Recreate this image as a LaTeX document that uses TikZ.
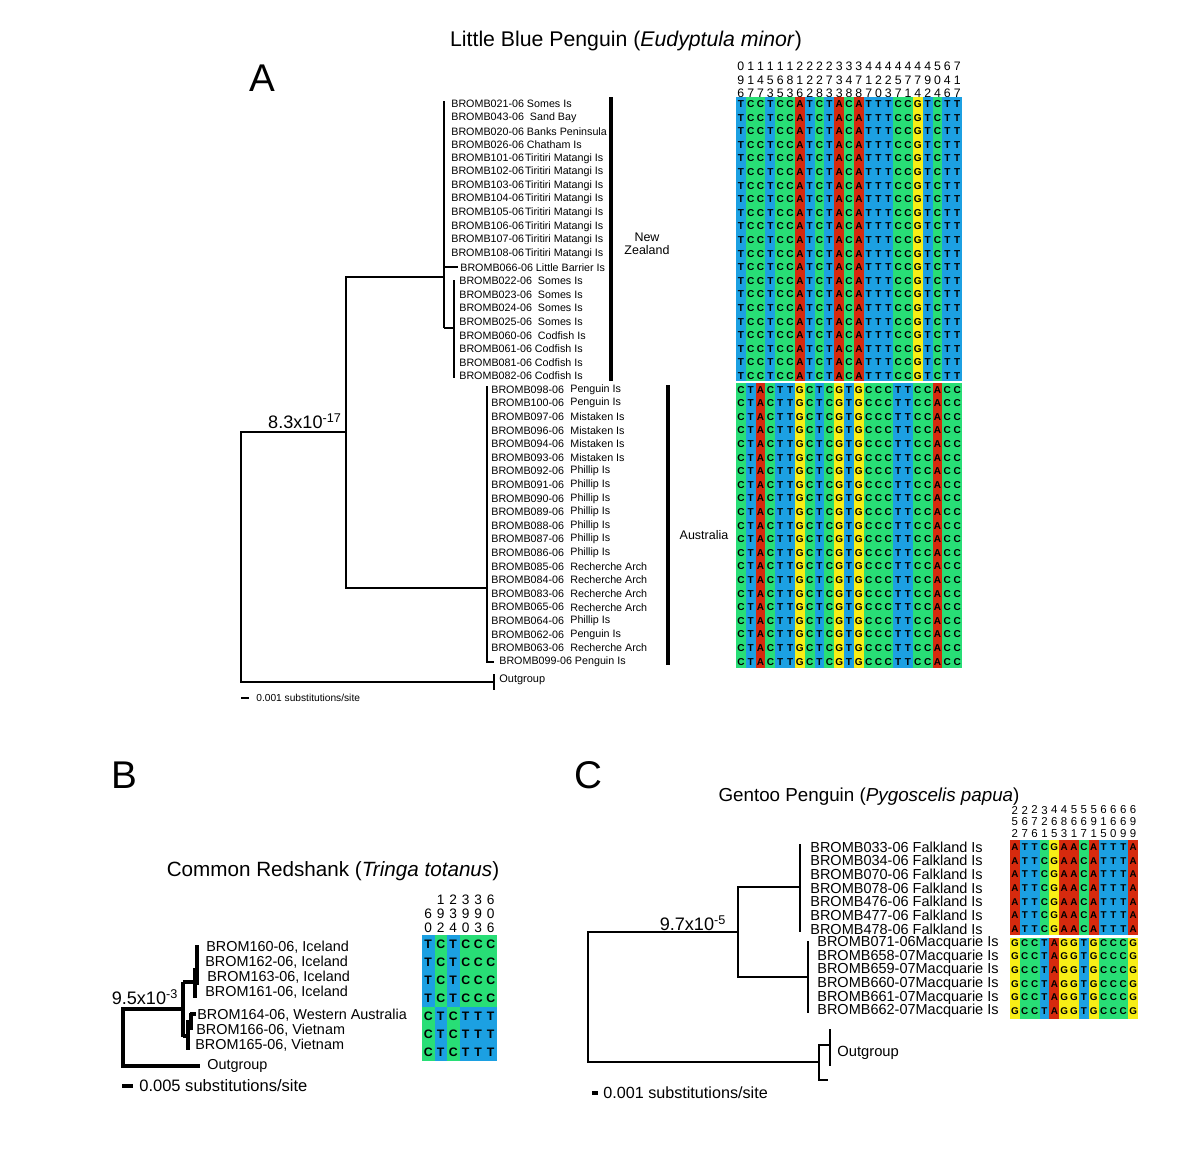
\documentclass[tikz,border=0pt]{standalone}
\usepackage{fontspec}
\setmainfont{Liberation Sans}
\usetikzlibrary{positioning}
\definecolor{NucA}{RGB}{214,42,14}
\definecolor{NucC}{RGB}{40,222,118}
\definecolor{NucG}{RGB}{248,238,22}
\definecolor{NucT}{RGB}{28,160,226}
\tikzset{
  branch/.style={line width=1.1pt},
  midbranch/.style={line width=1.4pt},
  heavybranch/.style={line width=2.3pt},
  cladebar/.style={line width=1.9pt},
  taxon/.style={anchor=west,inner sep=0pt,font=\fontsize{#1}{#1}\selectfont},
  nt/.style={inner sep=0pt,font=\fontsize{#1}{#1}\selectfont\bfseries},
  sitenum/.style 2 args={inner sep=0pt,align=center,font=\fontsize{#1}{#2}\selectfont},
  paneltag/.style={inner sep=0pt,font=\fontsize{22}{24}\selectfont},
  paneltitle/.style={inner sep=0pt,font=\fontsize{#1}{#1}\selectfont},
  support/.style={inner sep=0pt,font=\fontsize{10.3}{12}\selectfont}
}

\begin{document}
\begin{tikzpicture}[x=0.02cm,y=-0.02cm]
  \useasboundingbox (0,0) rectangle (1200,1163);

  % ---------- panel A ----------
  \node[paneltag] (tagA) at (262,78) {A};
  \node[paneltitle=12.1] (titleA) at (626,41) {Little Blue Penguin (\textit{Eudyptula minor})};

  % alignment
  \foreach \p/\q/\s [count=\i from 0] in {0/9/6,1/1/7,1/4/7,1/5/3,1/6/5,1/8/3,2/1/6,2/2/2,2/2/8,2/7/3,3/3/3,3/4/8,3/7/8,4/1/7,4/2/0,4/2/3,4/5/7,4/7/1,4/7/4,4/9/2,5/0/4,6/4/6,7/1/7}
    \node[sitenum={7}{7.65}] (sa\i) at (740.9+\i*9.83,80) {\p\\\q\\\s};
  \foreach \b [count=\i from 0] in {T,C,C,T,C,C,A,T,C,T,A,C,A,T,T,T,C,C,G,T,C,T,T}{
    \fill[fill=Nuc\b] (736+\i*9.83,97.2) rectangle ++(9.83,283.6);
    \foreach \r in {0,...,20}
      \node[nt=5.7] (nz-\i-\r) at (740.9+\i*9.83,104+\r*13.6) {\b};
  }
  \foreach \b [count=\i from 0] in {C,T,A,C,T,T,G,C,T,C,G,T,G,C,C,C,T,T,C,C,A,C,C}{
    \fill[fill=Nuc\b] (736+\i*9.83,383.2) rectangle ++(9.83,285.2);
    \foreach \r in {21,...,41}
      \node[nt=5.7] (au-\i-\r) at (740.9+\i*9.83,104+\r*13.6) {\b};
  }

  % tree
  \coordinate (A-root) at (241,432);
  \coordinate (A-in) at (346,432);
  \coordinate (A-nz) at (444,277);
  \coordinate (A-au) at (487,588);
  \coordinate (A-og) at (494,682);
  \draw[branch] (A-in) -- (A-root) |- (A-og);
  \draw[branch] (A-nz) -| (A-in) |- (A-au);
  \draw[branch] (444,101) -- (444,328);
  \draw[branch] (444,267) -- (458,267);
  \draw[branch] (444,328) -- (454,328);
  \draw[branch] (454,280) -- (454,378);
  \draw[branch] (487,386) -- (487,662) -- (494,662);
  \draw[branch] (494,674) -- (494,690);
  \node[support] (bsA) at (305,421) {8.3x10\textsuperscript{-17}};

  % taxa
  \foreach \t [count=\r from 0] in {BROMB021-06 Somes Is,BROMB043-06\ \ Sand Bay,BROMB020-06 Banks Peninsula,BROMB026-06 Chatham Is,BROMB101-06\kern.6pt Tiritiri Matangi Is,BROMB102-06\kern.6pt Tiritiri Matangi Is,BROMB103-06\kern.6pt Tiritiri Matangi Is,BROMB104-06\kern.6pt Tiritiri Matangi Is,BROMB105-06\kern.6pt Tiritiri Matangi Is,BROMB106-06\kern.6pt Tiritiri Matangi Is,BROMB107-06\kern.6pt Tiritiri Matangi Is,BROMB108-06\kern.6pt Tiritiri Matangi Is}
    \node[taxon=6.1] (nz\r) at (451,104+\r*13.6) {\t};
  \node[taxon=6.1] (nz12) at (460,267.2) {BROMB066-06 Little Barrier Is};
  \foreach \t [count=\r from 13] in {BROMB022-06\ \ Somes Is,BROMB023-06\ \ Somes Is,BROMB024-06\ \ Somes Is,BROMB025-06\ \ Somes Is,BROMB060-06\ \ Codfish Is,BROMB061-06 Codfish Is,BROMB081-06 Codfish Is,BROMB082-06 Codfish Is}
    \node[taxon=6.1] (nz\r) at (459,104+\r*13.6) {\t};
  \foreach \id/\loc [count=\r from 21] in {098/Penguin Is,100/Penguin Is,097/Mistaken Is,096/Mistaken Is,094/Mistaken Is,093/Mistaken Is,092/Phillip Is,091/Phillip Is,090/Phillip Is,089/Phillip Is,088/Phillip Is,087/Phillip Is,086/Phillip Is,085/Recherche Arch,084/Recherche Arch,083/Recherche Arch,065/Recherche Arch,064/Phillip Is,062/Penguin Is,063/Recherche Arch}{
    \node[taxon=6.1] (au\r) at (491,104+\r*13.6) {BROMB\id-06};
    \node[taxon=6.1] (aul\r) at (570,104+\r*13.6) {\loc};
  }
  \node[taxon=6.1] (au41) at (499,661.6) {BROMB099-06 Penguin Is};
  \node[taxon=6.25] (ogA) at (499,680) {Outgroup};

  % clades
  \draw[cladebar] (611,97) -- (611,381);
  \draw[cladebar] (668,385) -- (668,665);
  \node[paneltitle=7.1,align=center] (nzlab) at (647,244) {New\\Zealand};
  \node[paneltitle=7.1] (aulab) at (704,535) {Australia};

  % scale
  \draw[line width=1.6pt] (241,698) -- (249,698);
  \node[taxon=5.8] (scA) at (256,698) {0.001 substitutions/site};

  % ---------- panel B ----------
  \node[paneltag] (tagB) at (124,775) {B};
  \node[paneltitle=11.75] (titleB) at (333,871) {Common Redshank (\textit{Tringa totanus})};

  \foreach \p/\q/\s [count=\i from 0] in {\phantom{0}/6/0,1/9/2,2/3/4,3/9/0,3/9/3,6/0/6}
    \node[sitenum={7.8}{7.9}] (sb\i) at (428.25+\i*12.5,914) {\p\\\q\\\s};
  \foreach \b/\c [count=\i from 0] in {T/C,C/T,T/C,C/T,C/T,C/T}{
    \fill[fill=Nuc\b] (422+\i*12.5,935) rectangle ++(12.5,72);
    \fill[fill=Nuc\c] (422+\i*12.5,1007) rectangle ++(12.5,54);
    \foreach \r in {0,...,3}
      \node[nt=7] (rs-\i-\r) at (428.25+\i*12.5,944+\r*18) {\b};
    \foreach \r in {4,...,6}
      \node[nt=7] (rs-\i-\r) at (428.25+\i*12.5,944+\r*18) {\c};
  }

  \coordinate (B-root) at (123,1009);
  \coordinate (B-in) at (183,1009);
  \coordinate (B-og) at (200,1066);
  \draw[heavybranch] (B-in) -- (B-root) |- (B-og);
  \draw[heavybranch] (183,982) -- (183,1037);
  \draw[heavybranch] (183,982) -- (197,982);
  \draw[heavybranch] (197,945) -- (197,985);
  \draw[heavybranch] (195,968) -- (195,998);
  \draw[heavybranch] (183,1036) -- (188,1036);
  \draw[heavybranch] (188,1020) -- (188,1050);
  \draw[heavybranch] (191,1013) -- (191,1030);
  \draw[heavybranch] (190,1014) -- (196,1014);
  \node[support] (bsB) at (145,997) {9.5x10\textsuperscript{-3}};

  \foreach \id/\loc/\x/\y in {160/Iceland/206/947,162/Iceland/205/962,163/Iceland/207/977,161/Iceland/205/992,164/Western Australia/197/1015,166/Vietnam/196/1030,165/Vietnam/195/1045}
    \node[taxon=8.2] (rsh\id) at (\x,\y) {BROM\id-06, \loc};
  \node[taxon=8.2] (ogB) at (207,1066) {Outgroup};

  \draw[line width=2.3pt] (122,1086) -- (133,1086);
  \node[taxon=9.4] (scB) at (139,1086) {0.005 substitutions/site};

  % ---------- panel C ----------
  \node[paneltag] (tagC) at (588,775) {C};
  \node[paneltitle=10.7] (titleC) at (869,797) {Gentoo Penguin (\textit{Pygoscelis papua})};

  \foreach \p/\q/\s [count=\i from 0] in {2/5/2,2/6/7,2/7/6,3/2/1,4/6/5,4/8/3,5/6/1,5/6/7,5/9/1,6/1/5,6/6/0,6/6/9,6/9/9}
    \node[sitenum={6.5}{6.8}] (sc\i) at (1014.9+\i*9.85,822) {\p\\\q\\\s};
  \foreach \b/\c [count=\i from 0] in {A/G,T/C,T/C,C/T,G/A,A/G,A/G,C/T,A/G,T/C,T/C,T/C,A/G}{
    \fill[fill=Nuc\b] (1010+\i*9.85,840.2) rectangle ++(9.85,95);
    \fill[fill=Nuc\c] (1010+\i*9.85,937.5) rectangle ++(9.85,81);
    \foreach \r in {0,...,6}
      \node[nt=5.6] (gf-\i-\r) at (1014.9+\i*9.85,847+\r*13.68) {\b};
    \foreach \r in {7,...,12}
      \node[nt=5.6] (gm-\i-\r) at (1014.9+\i*9.85,847+\r*13.68) {\c};
  }

  \coordinate (C-root) at (588,932);
  \coordinate (C-in) at (738,932);
  \coordinate (C-fk) at (800,887);
  \coordinate (C-mq) at (808,977);
  \coordinate (C-og) at (819,1062);
  \draw[midbranch] (C-in) -- (C-root) |- (C-og);
  \draw[midbranch] (C-fk) -| (C-in) |- (C-mq);
  \draw[midbranch] (800,844) -- (800,932);
  \draw[midbranch] (808,941) -- (808,1013);
  \draw[midbranch] (830,1045) -| (819,1080) -- (828,1080);
  \draw[midbranch] (830,1029) -- (830,1066);
  \node[support] (bsC) at (693,923) {9.7x10\textsuperscript{-5}};

  \foreach \id [count=\r from 0] in {033,034,070,078,476,477,478}
    \node[taxon=8.25] (fk\id) at (810,847+\r*13.68) {BROMB\id-06 Falkland Is};
  \foreach \id [count=\r from 7] in {071-06,658-07,659-07,660-07,661-07,662-07}
    \node[taxon=8.25] (mq\r) at (817,847+\r*13.68) {BROMB\id Macquarie Is};
  \node[taxon=8.4] (ogC) at (837,1053) {Outgroup};

  \draw[line width=2.1pt] (592,1093) -- (598,1093);
  \node[taxon=9.2] (scC) at (603,1093) {0.001 substitutions/site};
\end{tikzpicture}
\end{document}
